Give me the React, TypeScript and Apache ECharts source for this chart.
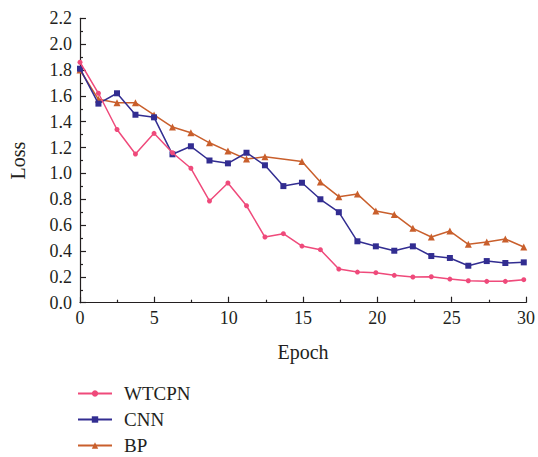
import React, { useEffect, useRef } from "react";
import * as echarts from "echarts";

const epochs = [0, 1.24, 2.49, 3.73, 4.98, 6.22, 7.46, 8.71, 9.95, 11.2, 12.44, 13.68, 14.93, 16.17, 17.41, 18.66, 19.9, 21.14, 22.39, 23.63, 24.88, 26.12, 27.36, 28.61, 29.85];
const wtcpn = [1.86, 1.62, 1.34, 1.15, 1.31, 1.16, 1.04, 0.787, 0.926, 0.75, 0.508, 0.534, 0.438, 0.41, 0.26, 0.237, 0.232, 0.212, 0.199, 0.201, 0.183, 0.17, 0.165, 0.165, 0.178];
const cnn = [1.81, 1.54, 1.62, 1.454, 1.434, 1.148, 1.21, 1.1, 1.078, 1.16, 1.063, 0.902, 0.928, 0.8, 0.7, 0.475, 0.436, 0.402, 0.436, 0.361, 0.346, 0.286, 0.322, 0.307, 0.312];
const bpEpochs = [0, 1.24, 2.49, 3.73, 4.98, 6.22, 7.46, 8.71, 9.95, 11.2, 12.44, 14.93, 16.17, 17.41, 18.66, 19.9, 21.14, 22.39, 23.63, 24.88, 26.12, 27.36, 28.61, 29.85];
const bp = [1.8, 1.573, 1.547, 1.547, 1.452, 1.359, 1.315, 1.237, 1.173, 1.111, 1.129, 1.092, 0.933, 0.82, 0.84, 0.709, 0.683, 0.575, 0.508, 0.554, 0.452, 0.469, 0.493, 0.431];
const seriesNames = ["WTCPN", "CNN", "BP"];

const FONT = "Liberation Serif";
const AXIS_COLOR = "#231f20";

export default function App() {
  const ref = useRef<HTMLDivElement>(null);
  useEffect(() => {
    if (!ref.current) return;
    const chart = echarts.init(ref.current, undefined, { renderer: "svg" });
    const pair = (xs: number[], ys: number[]) => ys.map((y, i) => [xs[i], y]);
    const axisCommon = {
      axisLine: { show: true, lineStyle: { color: AXIS_COLOR, width: 1.2 } },
      axisTick: { show: true, inside: true, length: 6, lineStyle: { color: AXIS_COLOR, width: 1.2 } },
      minorTick: { show: true, splitNumber: 2, length: 3, lineStyle: { color: AXIS_COLOR, width: 1.2 } },
      splitLine: { show: false },
      nameTextStyle: { fontFamily: FONT, fontSize: 20, color: AXIS_COLOR },
    };
    const legendTops = [384, 410, 436];
    chart.setOption({
      animation: false,
      backgroundColor: "#ffffff",
      grid: { left: 76.7, right: 10.7, top: 18.3, bottom: 154.3, containLabel: false },
      legend: seriesNames.map((n, i) => ({
        left: 77,
        top: legendTops[i],
        padding: 0,
        orient: "vertical",
        itemWidth: 34,
        itemHeight: 8,
        data: [n],
        textStyle: { fontFamily: FONT, fontSize: 19, lineHeight: 19, color: AXIS_COLOR, padding: [0, 0, 0, 7] },
      })),
      xAxis: {
        type: "value",
        min: 0,
        max: 30,
        interval: 5,
        name: "Epoch",
        nameLocation: "middle",
        nameGap: 39,
        ...axisCommon,
        axisLabel: { fontFamily: FONT, fontSize: 18, color: AXIS_COLOR, margin: 6 },
      },
      yAxis: {
        type: "value",
        min: 0,
        max: 2.2,
        interval: 0.2,
        name: "Loss",
        nameLocation: "middle",
        nameGap: 52,
        ...axisCommon,
        axisLabel: {
          fontFamily: FONT,
          fontSize: 18,
          color: AXIS_COLOR,
          margin: 8,
          formatter: (v: number) => v.toFixed(1),
        },
      },
      series: [
        {
          name: "WTCPN",
          type: "line",
          data: pair(epochs, wtcpn),
          symbol: "circle",
          symbolSize: 5,
          lineStyle: { color: "#ef4a7b", width: 1.5 },
          itemStyle: { color: "#ef4a7b" },
          z: 3,
        },
        {
          name: "CNN",
          type: "line",
          data: pair(epochs, cnn),
          symbol: "rect",
          symbolSize: 6,
          lineStyle: { color: "#322d91", width: 1.5 },
          itemStyle: { color: "#322d91" },
          z: 2,
        },
        {
          name: "BP",
          type: "line",
          data: pair(bpEpochs, bp),
          symbol: "triangle",
          symbolSize: 7,
          lineStyle: { color: "#c95f2c", width: 1.5 },
          itemStyle: { color: "#c95f2c" },
          z: 1,
        },
      ],
    });
    return () => chart.dispose();
  }, []);
  return <div ref={ref} style={{ width: 538, height: 457, position: "absolute", left: 0, top: 0 }} />;
}
